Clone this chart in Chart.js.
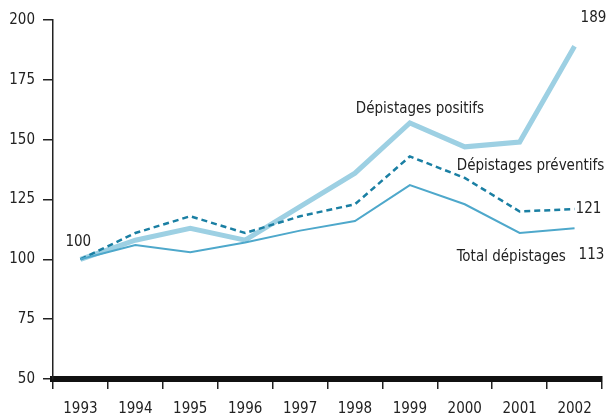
<!DOCTYPE html>
<html>
<head>
<meta charset="utf-8">
<script src="https://cdn.jsdelivr.net/npm/chart.js@4"></script>
<style>
  html, body { margin: 0; padding: 0; background: #fff; }
  #wrap { width: 606px; height: 414px; }
</style>
</head>
<body>
<div id="wrap"><canvas id="c" width="606" height="414"></canvas></div>
<script>
// Index base 100 en 1993
const years = ['1993','1994','1995','1996','1997','1998','1999','2000','2001','2002'];
const positifs = [100, 108, 113, 108, 122, 136, 157, 147, 149, 189];
const preventifs = [100, 111, 118, 111, 118, 123, 143, 134, 120, 121];
const total = [100, 106, 103, 107, 112, 116, 131, 123, 111, 113];
const yTicks = [50, 75, 100, 125, 150, 175, 200];

const FONT = '"Liberation Sans Narrow", "DejaVu Sans Condensed", "Roboto Condensed", sans-serif';

// Labels written next to the curves, anchored on data values
const notes = [
  { text: '100', series: positifs, idx: 0, dx: -15, dy: -17 },
  { text: '189', series: positifs, idx: 9, dx: 6, dy: -28 },
  { text: 'Dépistages positifs', series: positifs, idx: 6, dx: -54, dy: -14 },
  { text: 'Dépistages préventifs', series: preventifs, idx: 7, dx: -8, dy: -12 },
  { text: '121', series: preventifs, idx: 9, dx: 1, dy: 0 },
  { text: 'Total dépistages', series: total, idx: 8, dx: -63, dy: 24 },
  { text: '113', series: total, idx: 9, dx: 4, dy: 27 }
];

const notesPlugin = {
  id: 'notes',
  afterDatasetsDraw(chart) {
    const { ctx, scales: { x, y } } = chart;
    ctx.save();
    ctx.font = '15px ' + FONT;
    ctx.fillStyle = '#222';
    ctx.textBaseline = 'middle';
    ctx.textAlign = 'left';
    notes.forEach(n => {
      ctx.fillText(n.text, x.getPixelForValue(n.idx) + n.dx, y.getPixelForValue(n.series[n.idx]) + n.dy);
    });
    ctx.restore();
  }
};

new Chart(document.getElementById('c'), {
  type: 'line',
  data: {
    labels: years,
    datasets: [
      { data: total, borderColor: '#4ea8cb', borderWidth: 2, pointRadius: 0, tension: 0 },
      { data: preventifs, borderColor: '#1a7fa3', borderWidth: 2.5, borderDash: [6, 4], pointRadius: 0, tension: 0 },
      { data: positifs, borderColor: '#9dd0e3', borderWidth: 5, pointRadius: 0, tension: 0 }
    ]
  },
  options: {
    responsive: false,
    animation: false,
    layout: { padding: { top: 20, right: 4, left: 0, bottom: 0 } },
    plugins: { legend: { display: false }, tooltip: { enabled: false } },
    scales: {
      x: {
        offset: true,
        grid: { offset: true, drawOnChartArea: false, drawTicks: true, tickLength: 10, color: '#222', lineWidth: 1.5 },
        border: { display: true, color: '#111', width: 6 },
        ticks: { color: '#222', font: { family: FONT, size: 15 }, padding: 11, maxRotation: 0 },
        afterFit(s) { s.height = 35; }
      },
      y: {
        min: 50, max: 200,
        afterBuildTicks(s) { s.ticks = yTicks.map(v => ({ value: v })); },
        grid: { drawOnChartArea: false, drawTicks: true, tickLength: 10, color: '#222', lineWidth: 1.5 },
        border: { display: true, color: '#222', width: 1.5 },
        ticks: { color: '#222', font: { family: FONT, size: 15 }, padding: 8 },
        afterFit(s) { s.width = 53; }
      }
    }
  },
  plugins: [notesPlugin]
});
</script>
</body>
</html>
